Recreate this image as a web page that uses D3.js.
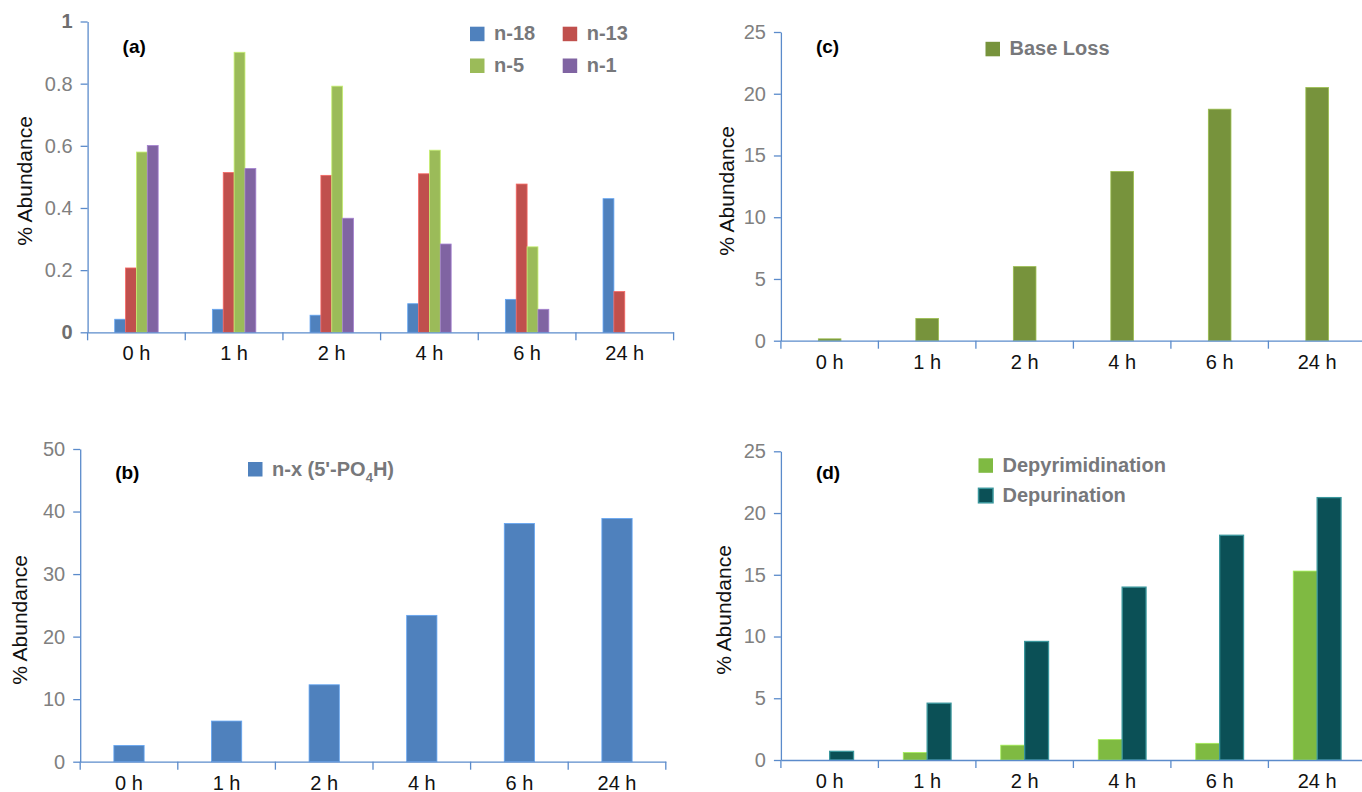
<!DOCTYPE html>
<html>
<head>
<meta charset="utf-8">
<script src="https://cdn.jsdelivr.net/npm/d3@7"></script>
<style>
  html, body { margin: 0; padding: 0; background: #fff; }
  svg { display: block; font-family: "Liberation Sans", Arial, Helvetica, sans-serif; }
</style>
</head>
<body>
<svg id="chart" width="1362" height="792"></svg>
<script>
// ---- data -------------------------------------------------------------
const timepoints = ["0 h", "1 h", "2 h", "4 h", "6 h", "24 h"];

// (a) truncated fragments, % abundance
const n18 = [0.042, 0.074, 0.055, 0.092, 0.106, 0.43];
const n13 = [0.207, 0.514, 0.505, 0.51, 0.477, 0.131];
const n5  = [0.58, 0.901, 0.792, 0.586, 0.275, 0];
const n1  = [0.601, 0.527, 0.367, 0.284, 0.074, 0];
const ticksA = [0, 0.2, 0.4, 0.6, 0.8, 1];

// (b) n-x (5'-PO4H) fragments
const phosphate = [2.6, 6.5, 12.3, 23.4, 38.1, 38.9];
const ticksB = [0, 10, 20, 30, 40, 50];

// (c) total base loss
const baseLoss = [0.15, 1.8, 6.0, 13.7, 18.75, 20.5];
const ticksC = [0, 5, 10, 15, 20, 25];

// (d) base loss split by base type
const depyrimidination = [0, 0.6, 1.2, 1.65, 1.35, 15.3];
const depurination     = [0.7, 4.6, 9.6, 14.0, 18.2, 21.25];
const ticksD = [0, 5, 10, 15, 20, 25];

// ---- styling ----------------------------------------------------------
const AXIS_COLOR = "#5b8bcb";
const TICK_TEXT = "#808080";
const LEGEND_TEXT = "#77787b";

const svg = d3.select("#chart");

function drawPanel(p) {
  const g = svg.append("g");
  const x = d3.scaleBand().domain(timepoints).range([p.left, p.right]);
  const y = d3.scaleLinear().domain([0, p.max]).range([p.bottom, p.top]);
  const keys = p.series.map(s => s.name);
  const groupW = x.bandwidth() * p.groupFrac;
  const xs = d3.scaleBand().domain(keys).range([-groupW / 2, groupW / 2]);

  // bars
  p.series.forEach(s => {
    g.append("g")
      .selectAll("rect")
      .data(s.values.map((v, i) => ({ t: timepoints[i], v })).filter(d => d.v > 0))
      .join("rect")
      .attr("x", d => x(d.t) + x.bandwidth() / 2 + xs(s.name) + (p.shift || 0))
      .attr("y", d => y(d.v))
      .attr("width", xs.bandwidth())
      .attr("height", d => y(0) - y(d.v))
      .attr("fill", s.color)
      .attr("stroke", s.stroke || d3.color(s.color).brighter(0.7))
      .attr("stroke-width", s.strokeWidth || 0.8);
  });

  // y axis
  const ya = g.append("g")
    .attr("transform", `translate(${p.left},0)`)
    .call(d3.axisLeft(y).tickValues(p.ticks).tickFormat(d => String(d))
      .tickSize(7).tickPadding(8).tickSizeOuter(0))
    .attr("font-family", null)
    .attr("font-size", 20);
  ya.select(".domain").attr("stroke", AXIS_COLOR).attr("stroke-width", 1.3);
  ya.selectAll(".tick line").attr("stroke", AXIS_COLOR).attr("stroke-width", 1.3);
  ya.selectAll(".tick text").attr("fill", TICK_TEXT);
  if (p.boldEnds) {
    ya.selectAll(".tick text")
      .filter(d => d === 0 || d === p.max)
      .attr("font-weight", "bold")
      .attr("fill", "#6e6e6e");
  }

  // x axis: labels centred in each band, ticks on band boundaries
  const xa = g.append("g")
    .attr("transform", `translate(0,${p.bottom})`)
    .call(d3.axisBottom(x).tickSize(0).tickPadding(14).tickSizeOuter(0))
    .attr("font-family", null)
    .attr("font-size", 20);
  xa.select(".domain").attr("stroke", AXIS_COLOR).attr("stroke-width", 1.3);
  xa.selectAll(".tick text").attr("fill", "#111");
  const bounds = timepoints.map(t => x(t)).concat([x.range()[1]]);
  xa.append("g").selectAll("line").data(bounds).join("line")
    .attr("x1", d => d).attr("x2", d => d)
    .attr("y1", 0).attr("y2", 8)
    .attr("stroke", AXIS_COLOR).attr("stroke-width", 1.3);

  // y title
  g.append("text")
    .attr("transform", `translate(${p.titleX},${p.titleY}) rotate(-90)`)
    .attr("text-anchor", "middle")
    .attr("font-size", 21)
    .attr("fill", "#111")
    .text("% Abundance");

  // panel tag
  g.append("text")
    .attr("x", p.left + 35)
    .attr("y", p.tagY)
    .attr("font-size", 19)
    .attr("font-weight", "bold")
    .attr("fill", "#000")
    .text(p.tag);

  // legend
  p.legend.forEach(l => {
    const s = p.series.find(d => d.name === l.name);
    g.append("rect")
      .attr("x", l.x).attr("y", l.y)
      .attr("width", 14.5).attr("height", 14.5)
      .attr("fill", s.color)
      .attr("stroke", s.legendStroke || "none")
      .attr("stroke-width", s.legendStroke ? 1.5 : 0);
    const t = g.append("text")
      .attr("x", l.x + 24).attr("y", l.y + 13.5)
      .attr("font-size", 20)
      .attr("font-weight", "bold")
      .attr("fill", LEGEND_TEXT);
    if (l.parts) {
      l.parts.forEach(part => {
        const ts = t.append("tspan").text(part.text);
        if (part.sub) ts.attr("font-size", 13).attr("dy", 6);
        if (part.after) ts.attr("dy", -6);
      });
    } else {
      t.text(l.name);
    }
  });
}

// (a)
drawPanel({
  tag: "(a)", tagY: 53,
  left: 87.6, right: 673.6, top: 21.5, bottom: 332.3, max: 1, ticks: ticksA,
  groupFrac: 0.445, boldEnds: true,
  titleX: 32, titleY: 181,
  series: [
    { name: "n-18", values: n18, color: "#4f81bd" },
    { name: "n-13", values: n13, color: "#c0504d" },
    { name: "n-5",  values: n5,  color: "#9bbb59" },
    { name: "n-1",  values: n1,  color: "#8064a2" }
  ],
  legend: [
    { name: "n-18", x: 470, y: 26.7 },
    { name: "n-13", x: 562.7, y: 26.7 },
    { name: "n-5",  x: 470, y: 58.5 },
    { name: "n-1",  x: 562.7, y: 58.5 }
  ]
});

// (b)
drawPanel({
  tag: "(b)", tagY: 479,
  left: 80.2, right: 665.8, top: 449, bottom: 761.7, max: 50, ticks: ticksB,
  groupFrac: 0.31,
  titleX: 27, titleY: 620,
  series: [
    { name: "n-x (5'-PO4H)", values: phosphate, color: "#4f81bd" }
  ],
  legend: [
    { name: "n-x (5'-PO4H)", x: 248, y: 462,
      parts: [{ text: "n-x (5'-PO" }, { text: "4", sub: true }, { text: "H)", after: true }] }
  ]
});

// (c)
drawPanel({
  tag: "(c)", tagY: 53,
  left: 780.9, right: 1365.9, top: 32, bottom: 340.7, max: 25, ticks: ticksC,
  groupFrac: 0.232,
  titleX: 734, titleY: 191,
  series: [
    { name: "Base Loss", values: baseLoss, color: "#77933c" }
  ],
  legend: [
    { name: "Base Loss", x: 985.5, y: 41.8 }
  ]
});

// (d)
drawPanel({
  tag: "(d)", tagY: 479,
  left: 780.9, right: 1365.9, top: 451.3, bottom: 760, max: 25, ticks: ticksD,
  groupFrac: 0.49,
  titleX: 731, titleY: 610,
  series: [
    { name: "Depyrimidination", values: depyrimidination, color: "#7fba42" },
    { name: "Depurination", values: depurination, color: "#0b5056",
      stroke: "#3a969c", strokeWidth: 1.3, legendStroke: "#3a969c" }
  ],
  legend: [
    { name: "Depyrimidination", x: 978.5, y: 458.3 },
    { name: "Depurination", x: 978.5, y: 488.3 }
  ]
});
</script>
</body>
</html>
